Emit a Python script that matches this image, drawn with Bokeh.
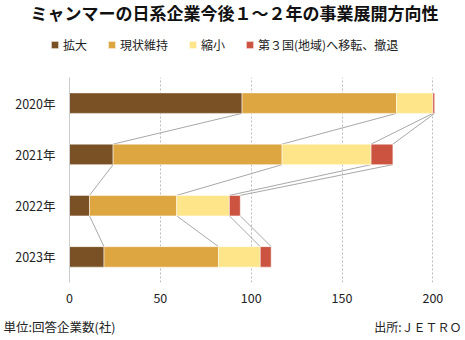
import numpy as np
from bokeh.plotting import figure
from bokeh.layouts import column
from bokeh.models import ColumnDataSource, Range1d, FixedTicker, Legend, LegendItem, Label
from bokeh.embed import file_html
from bokeh.resources import INLINE

years = ["2020年", "2021年", "2022年", "2023年"]
series = ["拡大", "現状維持", "縮小", "第３国(地域)へ移転、撤退"]
expand = [95, 24, 11, 19]
maintain = [85, 93, 48, 63]
shrink = [20, 49, 29, 23]
relocate = [1, 12, 6, 6]
colors = ["#7A5124", "#DDA641", "#FEE58A", "#CC5340"]
x_ticks = [0, 50, 100, 150, 200]
title_text = "ミャンマーの日系企業今後１～２年の事業展開方向性"
unit_text = "単位:回答企業数(社)"
source_text = "出所:ＪＥＴＲＯ"

FONT = "Noto Sans CJK JP"
W = 465
HEAD_H, MAIN_H, FOOT_H = 70, 242, 28
n = len(years)
pos = [n - 1 - i for i in range(n)]
bar_h = 0.4

data = {"pos": pos, "year": years}
for name, vals in zip(series, [expand, maintain, shrink, relocate]):
    data[name] = vals
src = ColumnDataSource(data)


def no_align(f):
    try:
        f.frame_align = False
    except Exception:
        pass


def blank(h):
    f = figure(width=W, height=h, output_backend="svg", toolbar_location=None,
               x_range=Range1d(0, W), y_range=Range1d(h, 0),
               x_axis_location=None, y_axis_location=None,
               min_border=0, min_border_left=0, min_border_right=0,
               min_border_top=0, min_border_bottom=0)
    f.xgrid.visible = False
    f.ygrid.visible = False
    f.outline_line_color = None
    no_align(f)
    return f


# ---- header: title + legend
head = blank(HEAD_H)
head.add_layout(Label(x=30, y=12, text=title_text, text_font=FONT, text_font_size="17px",
                      text_font_style="bold", text_color="#111", text_align="left",
                      text_baseline="middle"))
# legend swatches come from the real series renderers (hidden in the header)
hidden = head.hbar_stack(series, y="pos", height=bar_h, color=colors, source=src,
                         line_color="white", line_alpha=0.5, line_width=1)
for r in hidden:
    r.visible = False
legend = Legend(items=[LegendItem(label=s, renderers=[r]) for s, r in zip(series, hidden)],
                orientation="horizontal", location=(50, 17),
                label_text_font=FONT, label_text_font_size="12px", label_text_color="#222",
                glyph_width=9, glyph_height=9, spacing=20, label_standoff=4,
                border_line_color=None, background_fill_alpha=0, padding=2, margin=0,
                inactive_fill_alpha=0)
head.add_layout(legend, "center")

# ---- main chart
p = figure(width=W, height=MAIN_H, output_backend="svg", toolbar_location=None,
           x_range=Range1d(0, 202), y_range=Range1d(-0.5, n - 0.5),
           min_border_left=69, min_border_right=29, min_border_bottom=30, min_border_top=7)
no_align(p)

cum = np.cumsum(np.array([expand, maintain, shrink, relocate]), axis=0)
x0s, y0s, x1s, y1s = [], [], [], []
for i in range(n - 1):
    for k in range(len(series)):
        x0s.append(cum[k, i]); y0s.append(pos[i] - bar_h / 2)
        x1s.append(cum[k, i + 1]); y1s.append(pos[i + 1] + bar_h / 2)
p.segment(x0=x0s, y0=y0s, x1=x1s, y1=y1s, line_color="#a8a8a8", line_width=1)

p.hbar_stack(series, y="pos", height=bar_h, color=colors, source=src,
             line_color="white", line_alpha=0.5, line_width=1)

p.xaxis.ticker = FixedTicker(ticks=x_ticks)
p.xaxis.axis_line_color = None
p.xaxis.major_tick_line_color = None
p.xaxis.minor_tick_line_color = None
p.xaxis.major_label_text_font = FONT
p.xaxis.major_label_text_font_size = "12.5px"
p.xaxis.major_label_text_color = "#222"
p.xaxis.major_label_standoff = 4

p.yaxis.ticker = FixedTicker(ticks=pos)
p.yaxis.major_label_overrides = {pp: y for pp, y in zip(pos, years)}
p.yaxis.axis_line_color = "#cccccc"
p.yaxis.major_tick_line_color = None
p.yaxis.minor_tick_line_color = None
p.yaxis.major_label_text_font = FONT
p.yaxis.major_label_text_font_size = "12.5px"
p.yaxis.major_label_text_color = "#222"
p.yaxis.major_label_standoff = 8

p.xgrid.grid_line_color = "#bbbbbb"
p.xgrid.grid_line_dash = "2 2"
p.ygrid.grid_line_color = None
p.outline_line_color = None

# ---- footer
foot = blank(FOOT_H)
foot.add_layout(Label(x=3, y=14, text=unit_text, text_font=FONT, text_font_size="12.5px",
                      text_color="#222", text_align="left", text_baseline="middle"))
foot.add_layout(Label(x=W - 4, y=14, text=source_text, text_font=FONT, text_font_size="12px",
                      text_color="#222", text_align="right", text_baseline="middle"))

layout = column(head, p, foot, spacing=0)
open("out.html", "w").write(file_html(layout, INLINE))
